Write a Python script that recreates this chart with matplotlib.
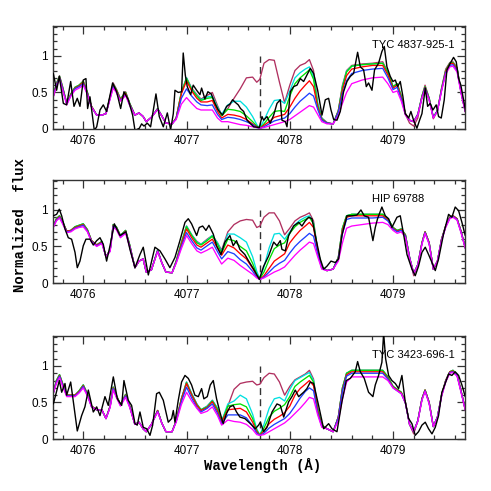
import matplotlib
matplotlib.use("Agg")
import matplotlib.pyplot as plt
from matplotlib.ticker import MultipleLocator

# ---------------- data ----------------
# common wavelength grid of the model spectra (Angstrom)
model_wl = [4075.70, 4075.74, 4075.77, 4075.80, 4075.84, 4075.88, 4075.92, 4075.96, 4076.00, 4076.04,
            4076.08, 4076.13, 4076.18, 4076.22, 4076.26, 4076.29, 4076.32, 4076.36, 4076.41, 4076.45,
            4076.50, 4076.54, 4076.58, 4076.61, 4076.66, 4076.72, 4076.76, 4076.80, 4076.86, 4076.90,
            4076.95, 4077.00, 4077.05, 4077.10, 4077.14, 4077.20, 4077.25, 4077.30, 4077.34, 4077.40,
            4077.46, 4077.52, 4077.58, 4077.64, 4077.68, 4077.71, 4077.75, 4077.80, 4077.85, 4077.90,
            4077.95, 4078.00, 4078.05, 4078.10, 4078.15, 4078.19, 4078.23, 4078.27, 4078.31, 4078.36,
            4078.42, 4078.47, 4078.51, 4078.55, 4078.60, 4078.70, 4078.80, 4078.90, 4078.95, 4079.00,
            4079.04, 4079.08, 4079.12, 4079.16, 4079.20, 4079.24, 4079.28, 4079.31, 4079.35, 4079.39,
            4079.43, 4079.47, 4079.51, 4079.55, 4079.58, 4079.62, 4079.66, 4079.70]

star_names = ["TYC 4837-925-1", "HIP 69788", "TYC 3423-696-1"]
line_center = 4077.71

# ---- TYC 4837-925-1 ----
t_maroon = [0.40,0.62,0.73,0.58,0.35,0.48,0.57,0.60,0.66,0.50,
            0.31,0.19,0.19,0.21,0.45,0.63,0.55,0.41,0.51,0.35,
            0.19,0.22,0.17,0.10,0.16,0.28,0.18,0.08,0.07,0.15,
            0.50,0.70,0.56,0.47,0.41,0.46,0.50,0.32,0.19,0.28,
            0.42,0.55,0.70,0.71,0.64,0.68,0.90,0.95,0.94,0.64,
            0.36,0.60,0.80,0.87,0.90,0.95,0.80,0.35,0.15,0.09,
            0.07,0.25,0.60,0.80,0.87,0.89,0.90,0.92,0.78,0.58,
            0.62,0.45,0.20,0.08,0.04,0.15,0.45,0.60,0.42,0.14,
            0.25,0.56,0.82,0.91,0.92,0.84,0.50,0.24]
t_cyan = [0.40,0.62,0.72,0.57,0.35,0.48,0.57,0.60,0.65,0.50,
          0.31,0.19,0.19,0.21,0.44,0.61,0.54,0.41,0.50,0.35,
          0.19,0.22,0.17,0.10,0.16,0.28,0.18,0.08,0.07,0.15,
          0.50,0.70,0.55,0.46,0.40,0.44,0.45,0.30,0.20,0.33,
          0.38,0.38,0.30,0.17,0.06,0.01,0.12,0.27,0.39,0.40,
          0.35,0.52,0.70,0.77,0.82,0.85,0.72,0.35,0.15,0.08,
          0.07,0.25,0.58,0.79,0.86,0.88,0.89,0.90,0.77,0.58,
          0.62,0.45,0.21,0.12,0.10,0.20,0.45,0.58,0.42,0.16,
          0.25,0.55,0.80,0.90,0.91,0.83,0.50,0.24]
t_green = [0.40,0.62,0.72,0.57,0.35,0.48,0.57,0.60,0.65,0.50,
           0.31,0.19,0.19,0.21,0.44,0.61,0.54,0.41,0.50,0.35,
           0.19,0.22,0.17,0.10,0.16,0.28,0.18,0.08,0.07,0.15,
           0.50,0.69,0.54,0.45,0.39,0.42,0.43,0.28,0.18,0.27,
           0.26,0.24,0.18,0.10,0.04,0.01,0.07,0.16,0.24,0.25,
           0.24,0.45,0.62,0.70,0.76,0.81,0.68,0.33,0.14,0.08,
           0.07,0.25,0.57,0.78,0.86,0.88,0.89,0.90,0.77,0.58,
           0.62,0.45,0.21,0.12,0.10,0.20,0.45,0.58,0.42,0.16,
           0.25,0.55,0.80,0.90,0.91,0.83,0.50,0.24]
t_red = [0.40,0.61,0.71,0.56,0.35,0.47,0.56,0.59,0.64,0.49,
         0.31,0.19,0.19,0.21,0.43,0.60,0.53,0.40,0.49,0.34,
         0.19,0.22,0.17,0.10,0.16,0.27,0.18,0.08,0.07,0.15,
         0.48,0.66,0.52,0.42,0.37,0.37,0.39,0.24,0.15,0.20,
         0.19,0.17,0.13,0.07,0.03,0.01,0.05,0.10,0.16,0.18,
         0.20,0.30,0.42,0.52,0.60,0.66,0.58,0.30,0.13,0.08,
         0.07,0.24,0.53,0.73,0.82,0.85,0.87,0.87,0.74,0.56,
         0.60,0.43,0.21,0.12,0.10,0.20,0.44,0.57,0.41,0.16,
         0.25,0.54,0.79,0.89,0.90,0.82,0.50,0.24]
t_blue = [0.40,0.60,0.70,0.55,0.34,0.46,0.55,0.58,0.62,0.48,
          0.30,0.19,0.19,0.21,0.42,0.58,0.51,0.39,0.47,0.33,
          0.19,0.22,0.17,0.10,0.16,0.27,0.18,0.08,0.07,0.14,
          0.42,0.55,0.45,0.37,0.33,0.32,0.33,0.20,0.13,0.16,
          0.15,0.13,0.10,0.06,0.02,0.01,0.03,0.07,0.11,0.13,
          0.15,0.21,0.30,0.38,0.44,0.49,0.45,0.27,0.12,0.08,
          0.07,0.23,0.48,0.66,0.76,0.80,0.82,0.83,0.70,0.54,
          0.57,0.41,0.20,0.12,0.10,0.20,0.43,0.56,0.40,0.16,
          0.25,0.53,0.77,0.87,0.88,0.80,0.49,0.24]
t_magenta = [0.39,0.58,0.68,0.53,0.33,0.45,0.53,0.56,0.60,0.47,
             0.30,0.19,0.19,0.21,0.41,0.56,0.50,0.38,0.46,0.32,
             0.19,0.22,0.17,0.10,0.16,0.27,0.18,0.08,0.07,0.13,
             0.34,0.43,0.35,0.28,0.26,0.26,0.26,0.15,0.10,0.10,
             0.08,0.06,0.05,0.03,0.02,0.01,0.02,0.04,0.06,0.08,
             0.10,0.13,0.18,0.23,0.28,0.32,0.30,0.20,0.10,0.07,
             0.07,0.18,0.35,0.50,0.62,0.67,0.70,0.71,0.62,0.50,
             0.52,0.38,0.19,0.12,0.10,0.19,0.42,0.54,0.39,0.15,
             0.24,0.52,0.75,0.85,0.86,0.78,0.48,0.23]
t_obs = [(4075.710,0.76),(4075.742,0.53),(4075.768,0.72),(4075.807,0.35),(4075.839,0.33),
         (4075.878,0.65),(4075.910,0.31),(4075.942,0.42),(4075.968,0.31),(4076.000,0.67),
         (4076.026,0.69),(4076.042,0.28),(4076.065,0.44),(4076.107,-0.02),(4076.130,0.03),
         (4076.162,0.26),(4076.194,0.33),(4076.226,0.24),(4076.284,0.63),(4076.323,0.51),
         (4076.362,0.28),(4076.394,0.51),(4076.436,0.40),(4076.478,0.19),(4076.501,-0.02),
         (4076.543,0.01),(4076.565,0.07),(4076.588,0.04),(4076.620,0.08),(4076.652,0.03),
         (4076.704,0.48),(4076.736,0.17),(4076.775,0.03),(4076.814,0.22),(4076.846,-0.01),
         (4076.872,0.21),(4076.888,0.53),(4076.920,0.50),(4076.952,0.51),(4076.968,1.04),
         (4076.988,0.74),(4077.007,0.58),(4077.040,0.47),(4077.065,0.60),(4077.098,0.53),
         (4077.130,0.47),(4077.146,0.56),(4077.178,0.41),(4077.207,0.51),(4077.239,0.48),
         (4077.275,0.35),(4077.307,0.26),(4077.349,0.19),(4077.388,0.31),(4077.420,0.34),
         (4077.446,0.40),(4077.468,0.37),(4077.501,0.33),(4077.523,0.28),(4077.553,0.24),
         (4077.586,0.12),(4077.650,0.03),(4077.705,0.02),(4077.731,0.17),(4077.747,0.12),
         (4077.779,0.17),(4077.811,0.08),(4077.844,0.19),(4077.876,0.35),(4077.908,0.40),
         (4077.924,0.12),(4077.957,0.10),(4077.973,0.03),(4077.989,0.26),(4078.005,0.51),
         (4078.037,0.58),(4078.070,0.60),(4078.102,0.69),(4078.134,0.65),(4078.166,0.74),
         (4078.199,0.83),(4078.231,0.76),(4078.270,0.53),(4078.312,0.19),(4078.344,0.40),
         (4078.376,0.42),(4078.399,0.26),(4078.425,0.13),(4078.457,0.12),(4078.489,0.24),
         (4078.521,0.51),(4078.554,0.65),(4078.586,0.72),(4078.618,0.76),(4078.657,1.05),
         (4078.683,0.85),(4078.715,0.81),(4078.741,0.58),(4078.763,0.63),(4078.796,0.53),
         (4078.821,0.81),(4078.860,0.90),(4078.892,1.06),(4078.915,1.13),(4078.941,0.85),
         (4078.973,0.72),(4078.999,0.65),(4079.022,0.67),(4079.044,0.58),(4079.070,0.65),
         (4079.096,0.44),(4079.118,0.21),(4079.151,0.15),(4079.173,0.24),(4079.199,0.12),
         (4079.231,0.01),(4079.257,0.12),(4079.280,0.21),(4079.312,0.56),(4079.335,0.31),
         (4079.360,0.35),(4079.386,0.26),(4079.418,0.33),(4079.441,0.17),(4079.467,0.15),
         (4079.496,0.40),(4079.522,0.81),(4079.554,0.90),(4079.586,0.98),(4079.612,0.92),
         (4079.635,0.69),(4079.657,0.60),(4079.683,0.40),(4079.706,0.21)]

# ---- HIP 69788 ----
m_maroon = [0.74,0.88,0.92,0.84,0.71,0.72,0.77,0.79,0.81,0.73,
            0.58,0.52,0.57,0.36,0.45,0.80,0.77,0.65,0.72,0.52,
            0.21,0.30,0.33,0.15,0.18,0.45,0.28,0.15,0.14,0.30,
            0.55,0.78,0.66,0.57,0.53,0.60,0.65,0.55,0.45,0.70,
            0.80,0.85,0.87,0.86,0.76,0.78,0.90,0.96,0.96,0.85,
            0.66,0.75,0.85,0.90,0.93,0.96,0.85,0.45,0.22,0.17,
            0.19,0.35,0.75,0.92,0.94,0.94,0.94,0.94,0.88,0.76,
            0.72,0.74,0.66,0.35,0.10,0.25,0.55,0.70,0.55,0.19,
            0.30,0.60,0.78,0.90,0.92,0.88,0.70,0.48]
m_cyan = [0.74,0.88,0.92,0.84,0.71,0.72,0.77,0.79,0.81,0.73,
          0.58,0.52,0.57,0.36,0.45,0.80,0.77,0.65,0.72,0.52,
          0.21,0.30,0.33,0.15,0.18,0.45,0.28,0.15,0.14,0.30,
          0.55,0.78,0.66,0.56,0.53,0.59,0.65,0.55,0.43,0.67,
          0.67,0.62,0.56,0.36,0.16,0.06,0.22,0.48,0.67,0.68,
          0.60,0.70,0.80,0.86,0.90,0.92,0.82,0.45,0.22,0.17,
          0.19,0.35,0.75,0.92,0.94,0.94,0.94,0.94,0.88,0.76,
          0.72,0.74,0.66,0.35,0.13,0.25,0.55,0.70,0.55,0.19,
          0.30,0.60,0.78,0.90,0.92,0.88,0.70,0.48]
m_green = [0.74,0.88,0.92,0.84,0.71,0.72,0.77,0.79,0.81,0.73,
           0.58,0.52,0.57,0.36,0.45,0.80,0.77,0.65,0.72,0.52,
           0.21,0.30,0.33,0.15,0.18,0.45,0.28,0.15,0.14,0.30,
           0.55,0.77,0.65,0.55,0.52,0.58,0.64,0.53,0.41,0.60,
           0.58,0.50,0.44,0.27,0.12,0.06,0.15,0.32,0.47,0.52,
           0.55,0.68,0.77,0.83,0.87,0.90,0.81,0.45,0.22,0.17,
           0.19,0.35,0.75,0.92,0.94,0.94,0.94,0.94,0.88,0.76,
           0.72,0.74,0.66,0.35,0.13,0.25,0.55,0.70,0.55,0.19,
           0.30,0.60,0.78,0.90,0.92,0.88,0.70,0.48]
m_red = [0.74,0.87,0.91,0.83,0.71,0.72,0.76,0.78,0.80,0.72,
         0.58,0.52,0.56,0.36,0.45,0.79,0.76,0.64,0.71,0.51,
         0.21,0.30,0.33,0.15,0.18,0.44,0.28,0.15,0.14,0.29,
         0.53,0.74,0.62,0.52,0.49,0.55,0.60,0.48,0.38,0.52,
         0.48,0.40,0.33,0.20,0.10,0.05,0.10,0.20,0.30,0.35,
         0.40,0.55,0.64,0.72,0.78,0.83,0.76,0.43,0.21,0.17,
         0.19,0.34,0.72,0.90,0.92,0.92,0.92,0.92,0.86,0.75,
         0.71,0.73,0.65,0.35,0.13,0.25,0.55,0.70,0.55,0.19,
         0.30,0.60,0.78,0.90,0.92,0.88,0.70,0.48]
m_blue = [0.74,0.86,0.90,0.82,0.70,0.71,0.75,0.77,0.79,0.71,
          0.57,0.51,0.55,0.36,0.44,0.78,0.75,0.63,0.70,0.50,
          0.21,0.30,0.33,0.15,0.18,0.44,0.28,0.15,0.14,0.28,
          0.50,0.69,0.58,0.48,0.45,0.51,0.56,0.43,0.33,0.43,
          0.40,0.32,0.26,0.16,0.08,0.05,0.08,0.15,0.22,0.27,
          0.31,0.41,0.50,0.57,0.63,0.68,0.64,0.40,0.20,0.17,
          0.19,0.33,0.68,0.87,0.89,0.89,0.89,0.90,0.85,0.74,
          0.70,0.72,0.64,0.35,0.13,0.25,0.54,0.69,0.54,0.19,
          0.30,0.59,0.77,0.89,0.91,0.87,0.69,0.48]
m_magenta = [0.73,0.85,0.89,0.81,0.69,0.70,0.74,0.76,0.77,0.70,
             0.56,0.50,0.54,0.36,0.43,0.76,0.73,0.62,0.68,0.49,
             0.21,0.30,0.33,0.15,0.18,0.43,0.28,0.15,0.14,0.27,
             0.47,0.65,0.54,0.44,0.41,0.45,0.49,0.36,0.26,0.34,
             0.31,0.24,0.18,0.12,0.07,0.05,0.07,0.11,0.15,0.18,
             0.22,0.30,0.38,0.45,0.51,0.56,0.54,0.36,0.19,0.17,
             0.19,0.30,0.55,0.75,0.78,0.80,0.82,0.83,0.80,0.72,
             0.68,0.70,0.62,0.34,0.13,0.24,0.53,0.68,0.53,0.19,
             0.30,0.58,0.76,0.88,0.90,0.86,0.68,0.47]
m_obs = [(4075.710,0.92),(4075.742,0.94),(4075.768,1.01),(4075.791,0.92),(4075.823,0.74),
         (4075.855,0.62),(4075.887,0.60),(4075.920,0.42),(4075.942,0.21),(4075.968,0.30),
         (4076.000,0.51),(4076.026,0.60),(4076.065,0.60),(4076.097,0.52),(4076.130,0.58),
         (4076.162,0.62),(4076.194,0.53),(4076.226,0.30),(4076.259,0.51),(4076.301,0.81),
         (4076.355,0.65),(4076.413,0.70),(4076.452,0.46),(4076.501,0.21),(4076.549,0.39),
         (4076.581,0.49),(4076.630,0.11),(4076.694,0.49),(4076.743,0.44),(4076.791,0.33),
         (4076.839,0.21),(4076.888,0.35),(4076.936,0.58),(4076.985,0.83),(4077.017,0.88),
         (4077.049,0.81),(4077.098,0.65),(4077.123,0.76),(4077.156,0.78),(4077.188,0.72),
         (4077.217,0.79),(4077.259,0.67),(4077.291,0.51),(4077.333,0.39),(4077.372,0.56),
         (4077.420,0.65),(4077.452,0.51),(4077.484,0.58),(4077.517,0.46),(4077.565,0.39),
         (4077.602,0.30),(4077.650,0.19),(4077.705,0.05),(4077.747,0.23),(4077.795,0.37),
         (4077.844,0.56),(4077.876,0.51),(4077.908,0.58),(4077.924,0.46),(4077.957,0.44),
         (4077.989,0.65),(4078.037,0.78),(4078.086,0.83),(4078.118,0.78),(4078.150,0.85),
         (4078.183,0.90),(4078.215,0.88),(4078.247,0.65),(4078.295,0.33),(4078.328,0.19),
         (4078.360,0.23),(4078.399,0.30),(4078.441,0.28),(4078.473,0.33),(4078.505,0.65),
         (4078.554,0.92),(4078.602,0.92),(4078.650,0.93),(4078.689,1.00),(4078.721,0.92),
         (4078.763,0.90),(4078.805,0.58),(4078.828,0.76),(4078.850,0.88),(4078.892,1.04),
         (4078.925,0.92),(4078.957,0.88),(4078.989,0.76),(4079.038,0.90),(4079.070,0.92),
         (4079.102,0.67),(4079.135,0.39),(4079.183,0.19),(4079.215,0.10),(4079.247,0.23),
         (4079.280,0.42),(4079.312,0.49),(4079.344,0.39),(4079.377,0.28),(4079.409,0.17),
         (4079.441,0.33),(4079.489,0.67),(4079.538,0.94),(4079.570,0.90),(4079.602,1.04),
         (4079.635,0.99),(4079.667,0.83),(4079.699,0.65)]

# ---- TYC 3423-696-1 ----
b_maroon = [0.58,0.80,0.88,0.76,0.60,0.60,0.60,0.66,0.74,0.62,
            0.45,0.40,0.40,0.28,0.45,0.71,0.60,0.47,0.61,0.45,
            0.20,0.23,0.14,0.10,0.20,0.39,0.22,0.10,0.10,0.25,
            0.55,0.78,0.62,0.48,0.40,0.45,0.53,0.42,0.24,0.45,
            0.68,0.76,0.78,0.79,0.74,0.75,0.84,0.90,0.89,0.78,
            0.60,0.72,0.81,0.85,0.89,0.94,0.82,0.42,0.19,0.14,
            0.10,0.30,0.70,0.90,0.94,0.94,0.94,0.94,0.85,0.72,
            0.68,0.64,0.50,0.20,0.07,0.25,0.55,0.67,0.50,0.17,
            0.30,0.60,0.80,0.92,0.94,0.88,0.65,0.40]
b_cyan = [0.58,0.80,0.88,0.76,0.60,0.60,0.60,0.66,0.74,0.62,
          0.45,0.40,0.40,0.28,0.45,0.71,0.60,0.47,0.61,0.45,
          0.20,0.23,0.14,0.10,0.20,0.39,0.22,0.10,0.10,0.25,
          0.55,0.78,0.62,0.48,0.40,0.45,0.53,0.42,0.24,0.48,
          0.52,0.60,0.55,0.34,0.14,0.05,0.20,0.42,0.55,0.57,
          0.52,0.68,0.80,0.84,0.88,0.91,0.80,0.42,0.19,0.14,
          0.10,0.30,0.70,0.90,0.94,0.94,0.94,0.94,0.85,0.72,
          0.68,0.64,0.50,0.20,0.10,0.25,0.55,0.67,0.50,0.17,
          0.30,0.60,0.80,0.92,0.94,0.88,0.65,0.40]
b_green = [0.58,0.80,0.88,0.76,0.60,0.60,0.60,0.66,0.74,0.62,
           0.45,0.40,0.40,0.28,0.45,0.71,0.60,0.47,0.61,0.45,
           0.20,0.23,0.14,0.10,0.20,0.39,0.22,0.10,0.10,0.25,
           0.55,0.77,0.61,0.47,0.40,0.44,0.52,0.41,0.23,0.45,
           0.47,0.48,0.44,0.28,0.12,0.05,0.15,0.30,0.38,0.42,
           0.47,0.58,0.72,0.78,0.83,0.87,0.78,0.41,0.19,0.14,
           0.10,0.30,0.70,0.90,0.94,0.94,0.94,0.94,0.85,0.72,
           0.68,0.64,0.50,0.20,0.10,0.25,0.55,0.67,0.50,0.17,
           0.30,0.60,0.80,0.92,0.94,0.88,0.65,0.40]
b_red = [0.58,0.79,0.87,0.75,0.60,0.60,0.60,0.65,0.73,0.61,
         0.45,0.40,0.40,0.28,0.45,0.70,0.59,0.47,0.60,0.45,
         0.20,0.23,0.14,0.10,0.20,0.39,0.22,0.10,0.10,0.25,
         0.54,0.76,0.60,0.46,0.39,0.43,0.51,0.38,0.23,0.40,
         0.41,0.42,0.37,0.23,0.10,0.05,0.11,0.21,0.27,0.31,
         0.36,0.45,0.60,0.69,0.75,0.80,0.73,0.39,0.18,0.14,
         0.10,0.30,0.68,0.88,0.92,0.92,0.92,0.92,0.83,0.71,
         0.67,0.63,0.50,0.20,0.10,0.25,0.55,0.67,0.50,0.17,
         0.30,0.60,0.80,0.92,0.93,0.88,0.65,0.40]
b_blue = [0.58,0.78,0.86,0.74,0.59,0.59,0.59,0.64,0.72,0.60,
          0.44,0.40,0.40,0.28,0.44,0.69,0.58,0.46,0.59,0.44,
          0.20,0.23,0.14,0.10,0.20,0.38,0.22,0.10,0.10,0.24,
          0.51,0.71,0.56,0.43,0.37,0.42,0.48,0.35,0.21,0.33,
          0.33,0.33,0.29,0.18,0.08,0.05,0.08,0.15,0.20,0.24,
          0.28,0.35,0.45,0.56,0.65,0.70,0.66,0.36,0.17,0.14,
          0.10,0.29,0.66,0.86,0.90,0.90,0.90,0.90,0.82,0.70,
          0.66,0.62,0.49,0.20,0.10,0.25,0.54,0.66,0.49,0.17,
          0.30,0.59,0.79,0.91,0.92,0.87,0.64,0.40]
b_magenta = [0.58,0.76,0.84,0.72,0.58,0.58,0.58,0.63,0.70,0.59,
             0.44,0.40,0.40,0.28,0.43,0.67,0.57,0.45,0.57,0.43,
             0.20,0.23,0.14,0.10,0.20,0.37,0.22,0.10,0.10,0.23,
             0.47,0.64,0.52,0.42,0.35,0.38,0.44,0.32,0.19,0.26,
             0.24,0.23,0.20,0.13,0.06,0.05,0.06,0.10,0.14,0.18,
             0.22,0.28,0.35,0.42,0.50,0.57,0.55,0.33,0.16,0.14,
             0.10,0.25,0.55,0.78,0.85,0.85,0.85,0.85,0.80,0.70,
             0.66,0.62,0.49,0.20,0.10,0.24,0.53,0.65,0.48,0.17,
             0.29,0.58,0.78,0.90,0.91,0.86,0.63,0.39]
b_obs = [(4075.710,0.48),(4075.736,0.62),(4075.768,0.80),(4075.791,0.64),(4075.823,0.76),
         (4075.839,0.60),(4075.878,0.78),(4075.904,0.51),(4075.942,0.11),(4075.984,0.32),
         (4076.016,0.44),(4076.049,0.67),(4076.097,0.37),(4076.130,0.44),(4076.162,0.32),
         (4076.210,0.58),(4076.242,0.46),(4076.291,0.85),(4076.330,0.55),(4076.372,0.46),
         (4076.394,0.80),(4076.436,0.53),(4076.468,0.46),(4076.501,0.21),(4076.523,0.19),
         (4076.549,0.37),(4076.581,0.16),(4076.614,0.14),(4076.646,0.05),(4076.672,0.19),
         (4076.710,0.62),(4076.736,0.64),(4076.775,0.53),(4076.823,0.23),(4076.856,0.28),
         (4076.872,0.39),(4076.888,0.23),(4076.920,0.53),(4076.952,0.78),(4076.985,0.87),
         (4077.017,0.83),(4077.049,0.74),(4077.081,0.60),(4077.114,0.58),(4077.146,0.69),
         (4077.168,0.55),(4077.201,0.58),(4077.230,0.74),(4077.259,0.80),(4077.291,0.55),
         (4077.323,0.37),(4077.355,0.21),(4077.388,0.35),(4077.420,0.44),(4077.452,0.46),
         (4077.484,0.37),(4077.517,0.30),(4077.565,0.28),(4077.618,0.21),(4077.666,0.14),
         (4077.698,0.19),(4077.715,0.23),(4077.747,0.10),(4077.779,0.16),(4077.828,0.37),
         (4077.876,0.48),(4077.908,0.46),(4077.941,0.30),(4077.989,0.51),(4078.021,0.58),
         (4078.053,0.67),(4078.086,0.58),(4078.134,0.64),(4078.166,0.69),(4078.199,0.78),
         (4078.231,0.76),(4078.279,0.46),(4078.328,0.14),(4078.376,0.21),(4078.409,0.14),
         (4078.457,0.10),(4078.505,0.51),(4078.547,0.80),(4078.586,0.83),(4078.634,0.92),
         (4078.657,1.06),(4078.683,0.92),(4078.721,0.83),(4078.763,0.64),(4078.805,0.58),
         (4078.828,0.74),(4078.860,0.87),(4078.892,1.05),(4078.909,1.45),(4078.928,1.10),
         (4078.957,0.87),(4078.989,0.80),(4079.022,0.76),(4079.054,0.69),(4079.086,0.87),
         (4079.118,0.51),(4079.151,0.28),(4079.183,0.21),(4079.215,0.05),(4079.247,0.10),
         (4079.280,0.19),(4079.312,0.23),(4079.344,0.14),(4079.377,0.07),(4079.409,0.16),
         (4079.441,0.32),(4079.473,0.64),(4079.505,0.76),(4079.538,0.89),(4079.570,0.87),
         (4079.602,0.92),(4079.635,0.87),(4079.667,0.74),(4079.699,0.58)]

panels = [
    (t_obs, [t_maroon, t_cyan, t_green, t_red, t_blue, t_magenta]),
    (m_obs, [m_maroon, m_cyan, m_green, m_red, m_blue, m_magenta]),
    (b_obs, [b_maroon, b_cyan, b_green, b_red, b_blue, b_magenta]),
]
model_colors = ["#b03060", "#00e0e0", "#00e000", "#ff0000", "#1f3fff", "#ff00ff"]

# ---------------- figure ----------------
fig = plt.figure(figsize=(4.91, 4.91), dpi=100)
bottoms = [0.7373, 0.4236, 0.1059]

for (obs, models), name, bot in zip(panels, star_names, bottoms):
    ax = fig.add_axes([0.1086, bot, 0.8391, 0.2098])
    for fl, col in zip(models, model_colors):
        ax.plot(model_wl, fl, color=col, lw=0.95, zorder=2,
                solid_joinstyle="round", solid_capstyle="round")
    ow, of = zip(*obs)
    ax.plot(ow, of, color="black", lw=1.0, zorder=3,
            solid_joinstyle="round", solid_capstyle="round")
    ax.plot([line_center, line_center], [0.0, 1.0], color="#333333", lw=1.0,
            dashes=(5, 3), zorder=1)
    ax.text(4078.80, 1.15, name, fontsize=8, family="Liberation Sans",
            va="center", ha="left")
    ax.set_xlim(4075.71, 4079.70)
    ax.set_ylim(0, 1.41)
    ax.xaxis.set_minor_locator(MultipleLocator(0.2))
    ax.yaxis.set_minor_locator(MultipleLocator(0.1))
    ax.set_yticks([0, 0.5, 1])
    ax.set_yticklabels(["0", "0.5", "1"])
    ax.set_xticks([4076, 4077, 4078, 4079])
    ax.set_xticklabels(["4076", "4077", "4078", "4079"])
    ax.tick_params(which="both", direction="in", top=True, right=True,
                   color="#333333", width=0.9)
    ax.tick_params(which="major", length=5.5, pad=4)
    ax.tick_params(which="minor", length=2.8)
    for lab in ax.get_xticklabels() + ax.get_yticklabels():
        lab.set_fontfamily("Liberation Sans")
        lab.set_fontsize(8.5)
    for sp in ax.spines.values():
        sp.set_color("#333333")
        sp.set_linewidth(1.0)

fig.text(0.041, 0.542, "Normalized  flux", rotation=90, ha="center", va="center",
         family="Liberation Mono", weight="bold", fontsize=10)
fig.text(0.534, 0.053, "Wavelength (Å)", ha="center", va="center",
         family="Liberation Mono", weight="bold", fontsize=10)

fig.savefig("out.png", dpi=100)
